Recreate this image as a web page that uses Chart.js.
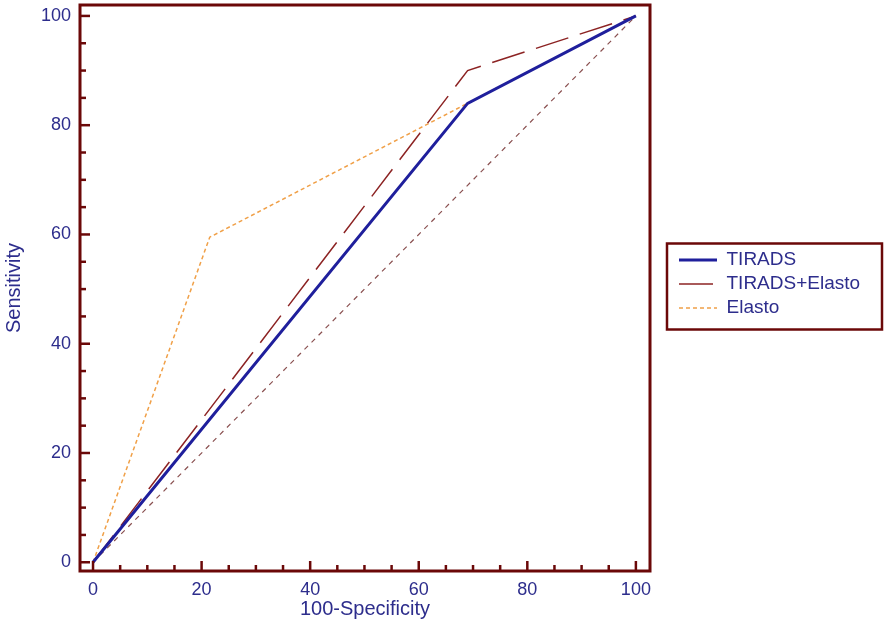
<!DOCTYPE html>
<html lang="en">
<head>
<meta charset="UTF-8">
<title>ROC curves</title>
<script src="https://cdn.jsdelivr.net/npm/chart.js"></script>
<style>
  body { margin: 0; background: #fff; }
</style>
</head>
<body>
<canvas id="rocChart" width="886" height="635"></canvas>
<script>
// 100-Specificity (x) against Sensitivity (y)
const tiradsX = [0, 69, 100];
const tiradsY = [0, 84, 100];
const comboX = [0, 69, 100];
const comboY = [0, 90, 100];
const elastoX = [0, 21.5, 100];
const elastoY = [0, 59.5, 100];
const diagX = [0, 100];
const diagY = [0, 100];
const seriesNames = ['TIRADS', 'TIRADS+Elasto', 'Elasto'];
const minorStep = 5;   // small tick marks every 5
const majorStep = 20;  // labelled ticks every 20

const frameColor = '#6b0808';
const textColor = '#2d2d8c';
const fontFamily = "'Liberation Sans', Arial, sans-serif";

function toPoints(xs, ys) {
    return xs.map((x, i) => ({ x: x, y: ys[i] }));
}

// frame box, inward ticks and legend border
const framePlugin = {
    id: 'frame',
    afterLayout(chart) {
        const lg = chart.legend;
        const pad = lg.options.labels.padding;
        const dx = chart.chartArea.right + 29 - (lg.left + pad);
        lg.left += dx;
        lg.right = chart.width;  // legend clips to its box, keep the long label whole
        lg.top -= 36;
        lg.bottom -= 36;
    },
    afterDraw(chart) {
        const ctx = chart.ctx;
        const area = chart.chartArea;
        const xs = chart.scales.x;
        const ys = chart.scales.y;
        ctx.save();
        ctx.strokeStyle = frameColor;
        ctx.lineWidth = 2.5;
        ctx.setLineDash([]);
        for (let v = 0; v <= 100; v += minorStep) {
            const len = v % majorStep === 0 ? 10 : 6;
            const px = xs.getPixelForValue(v);
            ctx.beginPath();
            ctx.moveTo(px, area.bottom);
            ctx.lineTo(px, area.bottom - len);
            ctx.stroke();
            const py = ys.getPixelForValue(v);
            ctx.beginPath();
            ctx.moveTo(area.left, py);
            ctx.lineTo(area.left + len, py);
            ctx.stroke();
        }
        ctx.lineWidth = 3;
        ctx.strokeRect(area.left, area.top, area.right - area.left, area.bottom - area.top);

        const hb = chart.legend.legendHitBoxes;
        if (hb.length) {
            const last = hb[hb.length - 1];
            const bx = area.right + 17;
            const by = hb[0].top - 7;
            const bh = last.top + last.height - hb[0].top + 19;
            ctx.lineWidth = 2.5;
            ctx.strokeRect(bx, by, 215, bh);
        }
        ctx.restore();
    }
};

const ctx = document.getElementById('rocChart').getContext('2d');

new Chart(ctx, {
    type: 'scatter',
    data: {
        datasets: [
            {
                label: seriesNames[0],
                data: toPoints(tiradsX, tiradsY),
                showLine: true,
                borderColor: '#1f1f9c',
                borderWidth: 3,
                pointRadius: 0
            },
            {
                label: seriesNames[1],
                data: toPoints(comboX, comboY),
                showLine: true,
                borderColor: '#8c2323',
                borderWidth: 1.5,
                borderDash: [34, 12],
                pointRadius: 0
            },
            {
                label: seriesNames[2],
                data: toPoints(elastoX, elastoY),
                showLine: true,
                borderColor: '#f0a048',
                borderWidth: 1.5,
                borderDash: [4, 3],
                pointRadius: 0
            },
            {
                label: '',
                data: toPoints(diagX, diagY),
                showLine: true,
                borderColor: '#8a5050',
                borderWidth: 1.2,
                borderDash: [5, 5],
                pointRadius: 0
            }
        ]
    },
    options: {
        responsive: false,
        animation: false,
        layout: { padding: { top: 5, right: 56, bottom: 0, left: 0 } },
        plugins: {
            tooltip: { enabled: false },
            legend: {
                position: 'right',
                maxWidth: 180,
                labels: {
                    usePointStyle: true,
                    pointStyle: 'line',
                    pointStyleWidth: 38,
                    padding: 5,
                    color: textColor,
                    font: { family: fontFamily, size: 19 },
                    generateLabels(chart) {
                        return chart.data.datasets
                            .map((d, i) => ({
                                text: d.label,
                                strokeStyle: d.borderColor,
                                fillStyle: d.borderColor,
                                lineWidth: d.borderWidth,
                                lineDash: d.borderDash || [],
                                pointStyle: 'line',
                                fontColor: textColor,
                                hidden: false,
                                datasetIndex: i
                            }))
                            .filter(item => item.text);
                    }
                }
            }
        },
        scales: {
            x: {
                type: 'linear',
                min: -2.4,
                max: 102.6,
                grid: { display: false, drawTicks: false },
                border: { display: false },
                ticks: {
                    stepSize: majorStep,
                    includeBounds: false,
                    color: textColor,
                    font: { family: fontFamily, size: 18 },
                    padding: 8,
                    maxRotation: 0
                },
                title: {
                    display: true,
                    text: '100-Specificity',
                    color: textColor,
                    font: { family: fontFamily, size: 20 },
                    padding: { top: 0, bottom: 14 }
                },
                afterFit(scale) {
                    scale.height = 64;
                    scale.paddingLeft = 0;
                    scale.paddingRight = 0;
                }
            },
            y: {
                type: 'linear',
                min: -1.6,
                max: 102,
                grid: { display: false, drawTicks: false },
                border: { display: false },
                ticks: {
                    stepSize: majorStep,
                    includeBounds: false,
                    color: textColor,
                    font: { family: fontFamily, size: 18 },
                    padding: 9
                },
                title: {
                    display: true,
                    text: 'Sensitivity',
                    color: textColor,
                    font: { family: fontFamily, size: 20 },
                    padding: { top: 2, bottom: 0 }
                },
                afterFit(scale) {
                    scale.width = 80;
                    scale.paddingTop = 0;
                    scale.paddingBottom = 0;
                }
            }
        }
    },
    plugins: [framePlugin]
});
</script>
</body>
</html>
